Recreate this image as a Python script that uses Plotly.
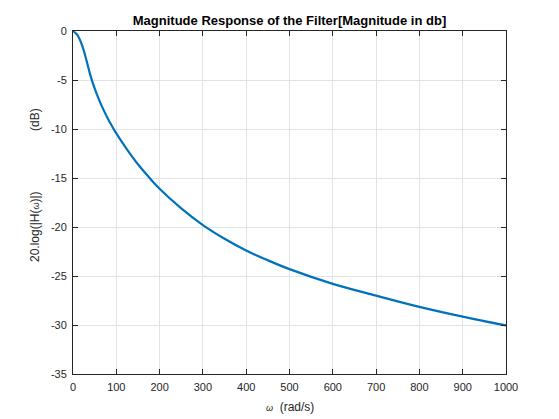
import plotly.graph_objects as go

# Data
omega = [0, 10, 20, 30, 40, 50, 60, 70, 80, 90, 100, 125, 150, 175, 200, 250,
         300, 350, 400, 450, 500, 600, 700, 800, 900, 1000]
mag_db = [0, -0.4, -1.35, -2.8, -4.5, -5.85, -7.0, -8.0, -8.9, -9.7, -10.45,
          -12.1, -13.6, -14.9, -16.1, -18.1, -19.8, -21.2, -22.4, -23.4, -24.3,
          -25.8, -27.0, -28.15, -29.15, -30.05]

x_ticks = [0, 100, 200, 300, 400, 500, 600, 700, 800, 900, 1000]
y_ticks = [0, -5, -10, -15, -20, -25, -30, -35]

title_text = "Magnitude Response of the Filter[Magnitude in db]"

FONT = "Liberation Sans, Arial, Helvetica, sans-serif"
AX = "#262626"

fig = go.Figure()
fig.add_trace(go.Scatter(
    x=omega, y=mag_db, mode="lines",
    line=dict(color="#0072BD", width=2.2, shape="spline", smoothing=1.0),
    showlegend=False, hoverinfo="skip",
))

axis_common = dict(
    showline=True, linecolor=AX, linewidth=1, mirror="ticks",
    ticks="inside", ticklen=5, tickcolor=AX, tickwidth=1,
    showgrid=True, gridcolor="#e3e3e3", gridwidth=1,
    zeroline=False,
    tickfont=dict(family=FONT, size=11, color=AX),
)

fig.update_xaxes(range=[0, 1000], tickvals=x_ticks,
                 ticktext=[str(v) for v in x_ticks], ticklabelstandoff=3,
                 **axis_common)
fig.update_yaxes(range=[-35, 0], tickvals=y_ticks,
                 ticktext=[str(v) for v in y_ticks], ticklabelstandoff=3,
                 **axis_common)

fig.update_layout(
    width=559, height=419,
    margin=dict(l=73, r=53, t=31, b=45),
    paper_bgcolor="white", plot_bgcolor="white",
    font=dict(family=FONT, color=AX),
    title=dict(text="<b>" + title_text + "</b>", x=0.5, xanchor="center",
               xref="paper", y=1 - 20 / 419, yanchor="middle",
               font=dict(family=FONT, size=13, color="black")),
    annotations=[
        dict(text="<span style='font-size:9px'><i>ω</i></span>&nbsp;&nbsp;(rad/s)",
             xref="paper", yref="paper", x=0.5, y=-(407 - 374) / 343,
             xanchor="center", yanchor="middle", showarrow=False,
             font=dict(family=FONT, size=12, color=AX)),
        dict(text="20.log(|H(<span style='font-size:9px'><i>ω</i></span>)|)",
             xref="paper", yref="paper", x=-(73 - 35) / 433,
             y=(374 - 227) / 343, xanchor="center", yanchor="middle",
             textangle=-90, showarrow=False,
             font=dict(family=FONT, size=12, color=AX)),
        dict(text="(dB)",
             xref="paper", yref="paper", x=-(73 - 35) / 433,
             y=(374 - 120) / 343, xanchor="center", yanchor="middle",
             textangle=-90, showarrow=False,
             font=dict(family=FONT, size=12, color=AX)),
    ],
)

fig.write_html("out.html")
